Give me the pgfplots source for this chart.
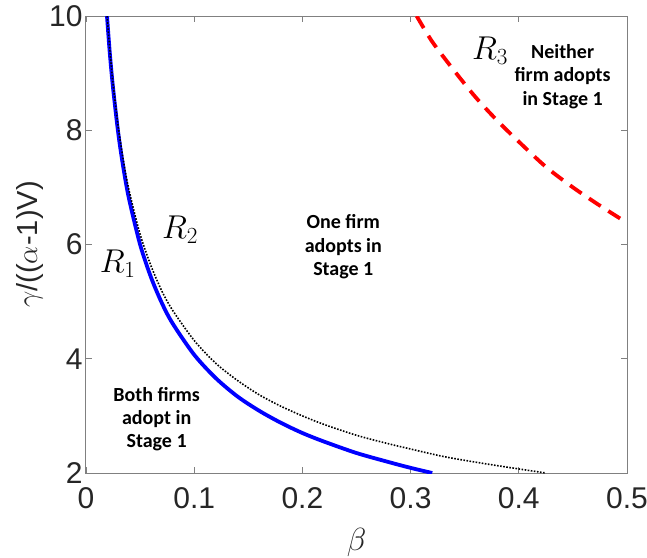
\RequirePackage{fix-cm}
\documentclass[border=0pt]{standalone}
\usepackage{fontspec}
\setmainfont{Liberation Sans}
\newfontfamily\carlito{Carlito}
\usepackage{pgfplots}
\pgfplotsset{compat=1.18}

% region boundaries (beta, gamma/((alpha-1)V))
\pgfplotstableread{
b y
0.0194 10.00
0.022 9.35
0.025 8.74
0.030 7.92
0.035 7.29
0.040 6.78
0.050 6.00
0.060 5.43
0.070 4.98
0.080 4.62
0.100 4.07
0.120 3.66
0.140 3.34
0.160 3.09
0.180 2.88
0.200 2.70
0.220 2.55
0.250 2.35
0.280 2.19
0.300 2.09
0.320 2.00
}\bluecurve
\pgfplotstableread{
b y
0.0195 10.00
0.022 9.41
0.025 8.82
0.030 8.03
0.035 7.42
0.040 6.93
0.050 6.18
0.060 5.63
0.070 5.19
0.080 4.85
0.100 4.32
0.120 3.92
0.140 3.62
0.160 3.37
0.180 3.17
0.200 3.00
0.220 2.85
0.250 2.66
0.280 2.51
0.300 2.42
0.330 2.29
0.360 2.19
0.390 2.10
0.425 2.00
}\dotcurve
\pgfplotstableread{
b y
0.3056 10.00
0.320 9.55
0.340 9.05
0.360 8.58
0.380 8.17
0.400 7.80
0.425 7.36
0.450 7.00
0.475 6.68
0.500 6.38
}\redcurve

\begin{document}
\begin{tikzpicture}
\path[use as bounding box] (-86pt,-84pt) rectangle (561pt,473pt);
\begin{axis}[
  at={(0,0)},anchor=south west,scale only axis,
  width=541pt,height=457pt,
  xmin=0,xmax=0.5,ymin=2,ymax=10,
  xtick={0,0.1,0.2,0.3,0.4,0.5},ytick={2,4,6,8,10},
  tick align=inside,major tick length=6pt,
  axis line style={black!50,line width=1pt},
  every tick/.style={black!50,line width=0.8pt},
  ticklabel style={font=\fontsize{30}{36}\selectfont,text=black!85},
  /pgf/number format/assume math mode=true,
  xticklabel style={yshift=-11pt},
  xlabel={$\beta$},ylabel={$\gamma$/(($\alpha$-1)V)},
  label style={text=black!85},
  xlabel style={font=\fontsize{32}{36}\selectfont,at={(axis description cs:0.5,-0.153)},anchor=center},
  ylabel style={font=\fontsize{29}{34}\selectfont,at={(axis description cs:-0.104,0.5)},anchor=center,rotate=0},
]
\addplot[blue,line width=3.8pt,smooth,tension=0.5] table[x=b,y=y] {\bluecurve};
\addplot[black,line width=1.6pt,dash pattern=on 1.6pt off 1.5pt,smooth,tension=0.5] table[x=b,y=y] {\dotcurve};
\addplot[red,line width=3.8pt,dash pattern=on 14pt off 9pt,smooth,tension=0.5] table[x=b,y=y] {\redcurve};

\node[font=\fontsize{33}{40}\selectfont] at (axis cs:0.0293,5.67) {$R_1$};
\node[font=\fontsize{33}{40}\selectfont] at (axis cs:0.0869,6.26) {$R_2$};
\node[font=\fontsize{33}{40}\selectfont] at (axis cs:0.3734,9.40) {$R_3$};

\node[font=\carlito\bfseries\fontsize{20}{23.3}\selectfont,align=center] at (axis cs:0.0653,2.94) {Both firms\\adopt in\\Stage 1};
\node[font=\carlito\bfseries\fontsize{20}{23.3}\selectfont,align=center] at (axis cs:0.2378,5.96) {One firm\\adopts in\\Stage 1};
\node[font=\carlito\bfseries\fontsize{20}{23.3}\selectfont,align=center] at (axis cs:0.4405,8.94) {Neither\\firm adopts\\in Stage 1};
\end{axis}
\end{tikzpicture}
\end{document}
